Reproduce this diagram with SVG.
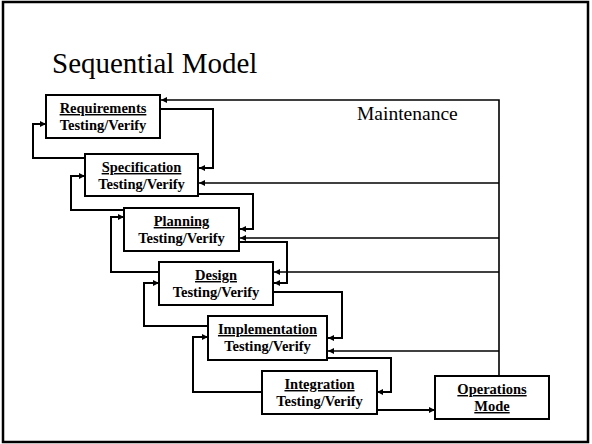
<svg xmlns="http://www.w3.org/2000/svg" width="592" height="444" viewBox="0 0 592 444">
<style>
.box{fill:#fff;stroke:#000;stroke-width:2}
.lbl{font-weight:bold;font-size:14.5px;text-anchor:middle;fill:#000}
.u{text-decoration:underline}
.c{fill:none;stroke:#000;stroke-width:2}
.m{fill:none;stroke:#000;stroke-width:1.6}
</style>
<defs>
<marker id="ah" markerUnits="userSpaceOnUse" markerWidth="7" markerHeight="6" refX="6" refY="3" orient="auto">
<path d="M0,0 L6,3 L0,6 z" fill="#000"/>
</marker>
</defs>
<rect x="3" y="2" width="585" height="440" fill="#fff" stroke="#000" stroke-width="2.5"/>
<text x="52" y="73" font-family="Liberation Serif, serif" font-size="29">Sequential Model</text>
<text x="357" y="120" font-family="Liberation Serif, serif" font-size="19.5">Maintenance</text>
<g id="connectors">
<path class="m" d="M499,376 V100 H161" marker-end="url(#ah)"/>
<path class="m" d="M499,183 H199" marker-end="url(#ah)"/>
<path class="m" d="M499,238 H240" marker-end="url(#ah)"/>
<path class="m" d="M499,272 H274" marker-end="url(#ah)"/>
<path class="m" d="M499,351 H328" marker-end="url(#ah)"/>
<path class="c" d="M160,109 H213 V168 H199" marker-end="url(#ah)"/>
<path class="c" d="M85,158 H33 V124 H46" marker-end="url(#ah)"/>
<path class="c" d="M198,194 H253 V229 H240" marker-end="url(#ah)"/>
<path class="c" d="M124,210 H71 V176 H85" marker-end="url(#ah)"/>
<path class="c" d="M239,242 H287 V283 H274" marker-end="url(#ah)"/>
<path class="c" d="M159,272 H111 V217 H124" marker-end="url(#ah)"/>
<path class="c" d="M273,292 H342 V338 H328" marker-end="url(#ah)"/>
<path class="c" d="M208,326 H144 V283 H159" marker-end="url(#ah)"/>
<path class="c" d="M327,358 H391 V392 H377" marker-end="url(#ah)"/>
<path class="c" d="M262,392 H193 V337 H208" marker-end="url(#ah)"/>
<path class="c" d="M377,410 H435" marker-end="url(#ah)"/>
</g>
<g id="requirements">
<rect class="box" x="46" y="95" width="114" height="43"/>
<text class="lbl" font-family="Liberation Serif, serif" x="103" y="113"><tspan class="u">Requirements</tspan><tspan x="103" dy="17">Testing/Verify</tspan></text>
</g>
<g id="specification">
<rect class="box" x="85" y="154" width="113" height="42"/>
<text class="lbl" font-family="Liberation Serif, serif" x="141.5" y="172"><tspan class="u">Specification</tspan><tspan x="141.5" dy="17">Testing/Verify</tspan></text>
</g>
<g id="planning">
<rect class="box" x="124" y="208" width="115" height="43"/>
<text class="lbl" font-family="Liberation Serif, serif" x="181.5" y="226"><tspan class="u">Planning</tspan><tspan x="181.5" dy="17">Testing/Verify</tspan></text>
</g>
<g id="design">
<rect class="box" x="159" y="262" width="114" height="43"/>
<text class="lbl" font-family="Liberation Serif, serif" x="216" y="280"><tspan class="u">Design</tspan><tspan x="216" dy="17">Testing/Verify</tspan></text>
</g>
<g id="implementation">
<rect class="box" x="208" y="316" width="119" height="44"/>
<text class="lbl" font-family="Liberation Serif, serif" x="267.5" y="334"><tspan class="u">Implementation</tspan><tspan x="267.5" dy="17">Testing/Verify</tspan></text>
</g>
<g id="integration">
<rect class="box" x="262" y="371" width="115" height="43"/>
<text class="lbl" font-family="Liberation Serif, serif" x="319.5" y="389"><tspan class="u">Integration</tspan><tspan x="319.5" dy="17">Testing/Verify</tspan></text>
</g>
<g id="operations">
<rect class="box" x="435" y="376" width="114" height="43"/>
<text class="lbl" font-family="Liberation Serif, serif" x="492" y="394"><tspan class="u">Operations</tspan><tspan class="u" x="492" dy="17">Mode</tspan></text>
</g>
</svg>
